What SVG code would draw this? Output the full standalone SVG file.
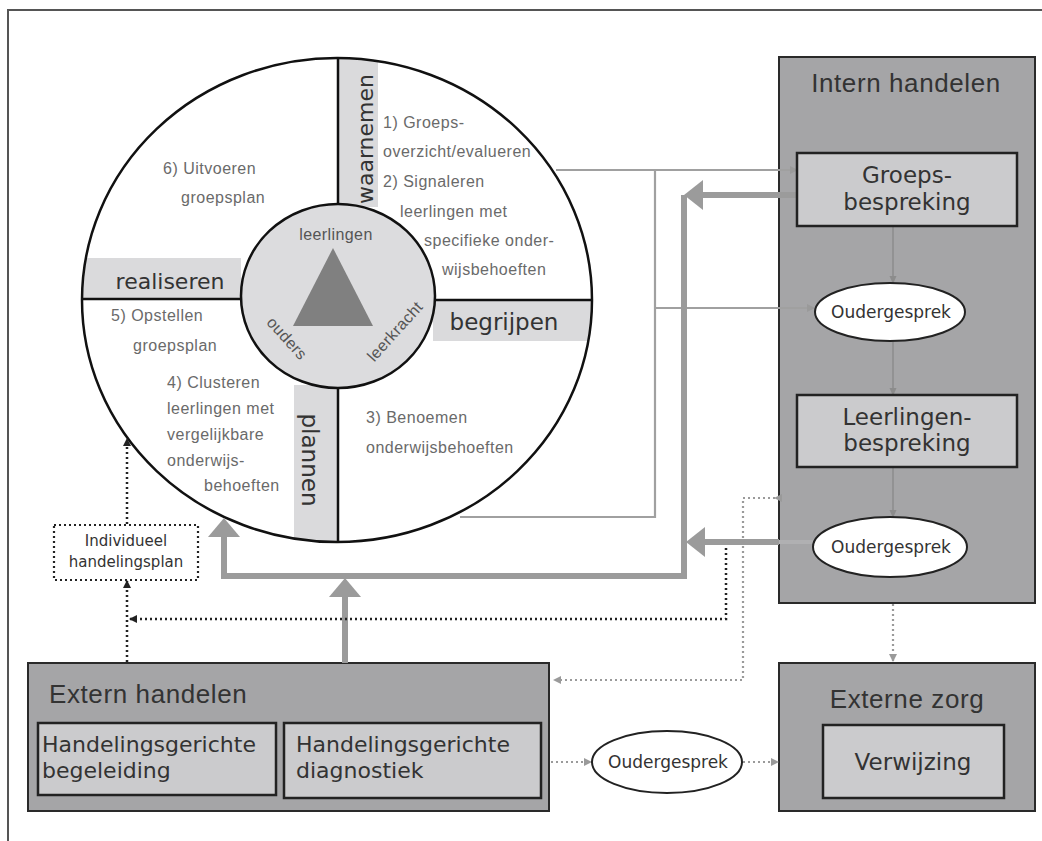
<svg xmlns="http://www.w3.org/2000/svg" width="1042" height="841" viewBox="0 0 1042 841">
<style>
.frame{stroke:#555;stroke-width:2;fill:none}
.q{font-family:"Liberation Sans",Arial,sans-serif;font-size:16px;letter-spacing:0.5px;fill:#6a6a6a}
.in{font-family:"Liberation Sans",Arial,sans-serif;font-size:16px;letter-spacing:0.4px;fill:#555}
.c{font-family:"DejaVu Sans",Verdana,sans-serif;fill:#333}
.t{font-family:"Liberation Sans",Arial,sans-serif;font-size:26px;letter-spacing:0.6px;fill:#333}
.strip{fill:#dadadc}
.box{fill:#a5a5a7;stroke:#2a2a2a;stroke-width:2}
.sub{fill:#cbcbcd;stroke:#222;stroke-width:2.5}
.ell{fill:#fff;stroke:#222;stroke-width:2}
.thick{stroke:#9b9b9b;stroke-width:6;fill:none}
.thin{stroke:#a0a0a0;stroke-width:2.2;fill:none}
.vthin{stroke:#8c8c8c;stroke-width:1.5;fill:none}
.dotl{stroke:#9a9a9a;stroke-width:2.2;stroke-dasharray:2 3;fill:none}
.dotd{stroke:#222;stroke-width:2.5;stroke-dasharray:2 3;fill:none}
</style>
<defs>
<clipPath id="oc"><ellipse cx="337" cy="300" rx="255" ry="242"/></clipPath>
<marker id="ag" markerWidth="8" markerHeight="8" refX="7" refY="4" orient="auto" markerUnits="userSpaceOnUse"><path d="M0,0 L8,4 L0,8 z" fill="#9a9a9a"/></marker>
<marker id="ad" markerWidth="8" markerHeight="8" refX="7" refY="4" orient="auto" markerUnits="userSpaceOnUse"><path d="M0,0 L8,4 L0,8 z" fill="#222"/></marker>
<marker id="at" markerWidth="8" markerHeight="8" refX="7" refY="4" orient="auto" markerUnits="userSpaceOnUse"><path d="M0,0.5 L8,4 L0,7.5 z" fill="#8c8c8c"/></marker>
</defs>

<!-- outer frame -->
<path class="frame" d="M8,841 L8,10 L1042,10"/>

<!-- circle model -->
<g id="cycle">
  <ellipse cx="337" cy="300" rx="255" ry="242" fill="#fff"/>
  <g clip-path="url(#oc)">
    <rect class="strip" x="339" y="55" width="39" height="152"/>
    <rect class="strip" x="75" y="258" width="166" height="40"/>
    <rect class="strip" x="433" y="301" width="165" height="40"/>
    <rect class="strip" x="294" y="385" width="43" height="160"/>
  </g>
  <ellipse cx="337" cy="300" rx="255" ry="242" fill="none" stroke="#111" stroke-width="2.5"/>
  <path d="M338,58 L338,205 M338,385 L338,542 M82,299 L242,299 M434,300 L592,300" stroke="#111" stroke-width="2.5" fill="none"/>
  <ellipse cx="338" cy="296" rx="97" ry="92" fill="#dcdcde" stroke="#111" stroke-width="2.5"/>
  <polygon points="333,248 293,326 373,326" fill="#808080"/>
  <text class="in" x="336" y="240" text-anchor="middle">leerlingen</text>
  <text class="in" transform="translate(283,342) rotate(48)" text-anchor="middle">ouders</text>
  <text class="in" transform="translate(399,335) rotate(-48)" text-anchor="middle">leerkracht</text>

  <text class="c" font-size="22" transform="translate(373,139) rotate(-90)" text-anchor="middle">waarnemen</text>
  <text class="c" font-size="22" x="170" y="289" text-anchor="middle">realiseren</text>
  <text class="c" font-size="23" x="504" y="330" text-anchor="middle">begrijpen</text>
  <text class="c" font-size="23" transform="translate(302,460) rotate(90)" text-anchor="middle">plannen</text>

  <text class="q" x="383" y="128">1) Groeps-</text>
  <text class="q" x="383" y="157">overzicht/evalueren</text>
  <text class="q" x="383" y="187">2) Signaleren</text>
  <text class="q" x="400" y="217">leerlingen met</text>
  <text class="q" x="424" y="246">specifieke onder-</text>
  <text class="q" x="442" y="275">wijsbehoeften</text>

  <text class="q" x="163" y="174">6) Uitvoeren</text>
  <text class="q" x="181" y="203">groepsplan</text>

  <text class="q" x="111" y="321">5) Opstellen</text>
  <text class="q" x="133" y="351">groepsplan</text>

  <text class="q" x="167" y="388">4) Clusteren</text>
  <text class="q" x="167" y="414">leerlingen met</text>
  <text class="q" x="167" y="440">vergelijkbare</text>
  <text class="q" x="167" y="466">onderwijs-</text>
  <text class="q" x="204" y="491">behoeften</text>

  <text class="q" x="366" y="423">3) Benoemen</text>
  <text class="q" x="366" y="453">onderwijsbehoeften</text>
</g>

<!-- container boxes -->
<g id="intern">
  <rect class="box" x="779" y="57" width="256" height="546"/>
  <text class="t" x="906" y="92" text-anchor="middle">Intern handelen</text>
</g>
<g id="externe-zorg">
  <rect class="box" x="779" y="663" width="256" height="148"/>
  <text class="t" x="907" y="708" text-anchor="middle">Externe zorg</text>
</g>
<g id="extern">
  <rect class="box" x="28" y="663" width="521" height="148"/>
  <text class="t" x="49" y="703">Extern handelen</text>
</g>

<!-- connectors -->
<g id="connectors">
  <path class="thin" d="M556,170 L797,170" marker-end="url(#ag)"/>
  <path class="thin" d="M655,170 L655,517 L460,517"/>
  <path class="thin" d="M655,308 L814,308" marker-end="url(#ag)"/>
  <path class="thick" d="M684,195 L684,576 L224,576 L224,534"/>
  <polygon points="224,518 208,537 240,537" fill="#9b9b9b"/>
  <path class="thick" d="M797,195 L700,195"/>
  <polygon points="684,195 703,180 703,210" fill="#9b9b9b"/>
  <path class="thick" d="M779,542 L702,542"/>
  <path d="M813,542 L779,542" stroke="#b0b0b2" stroke-width="4" fill="none"/>
  <polygon points="686,542 705,527 705,557" fill="#9b9b9b"/>
  <path class="thick" d="M345,663 L345,594"/>
  <polygon points="345,578 329,597 361,597" fill="#9b9b9b"/>
  <path class="vthin" d="M893,226 L893,283" marker-end="url(#at)"/>
  <path class="vthin" d="M893,342 L893,395" marker-end="url(#at)"/>
  <path class="vthin" d="M893,467 L893,517" marker-end="url(#at)"/>
  <path class="dotl" d="M775,498 L743,498 L743,680 L554,680" marker-start="url(#ag)" marker-end="url(#ag)"/>
  <path class="dotl" d="M893,604 L893,661" marker-end="url(#ag)"/>
  <path class="dotl" d="M551,762 L591,762" marker-end="url(#ag)"/>
  <path class="dotl" d="M743,762 L778,762" marker-end="url(#ag)"/>
  <path class="dotd" d="M726,548 L726,619 L130,619" marker-end="url(#ad)"/>
  <path class="dotd" d="M127,662 L127,581" marker-end="url(#ad)"/>
  <path class="dotd" d="M127,524 L127,439" marker-end="url(#ad)"/>
</g>

<g id="groepsbespreking">
  <rect class="sub" x="797" y="153" width="220" height="73"/>
  <text class="c" font-size="23" x="907" y="183" text-anchor="middle">Groeps-</text>
  <text class="c" font-size="23" x="907" y="210" text-anchor="middle">bespreking</text>
</g>
<g id="oudergesprek1">
  <ellipse class="ell" cx="890" cy="312" rx="75" ry="29"/>
  <text class="c" font-size="17" x="891" y="318" text-anchor="middle">Oudergesprek</text>
</g>
<g id="leerlingenbespreking">
  <rect class="sub" x="797" y="395" width="220" height="72"/>
  <text class="c" font-size="23" x="907" y="425" text-anchor="middle">Leerlingen-</text>
  <text class="c" font-size="23" x="907" y="451" text-anchor="middle">bespreking</text>
</g>
<g id="oudergesprek2">
  <ellipse class="ell" cx="890" cy="547" rx="77" ry="30"/>
  <text class="c" font-size="17" x="891" y="553" text-anchor="middle">Oudergesprek</text>
</g>
<g id="verwijzing">
  <rect class="sub" x="823" y="725" width="181" height="73"/>
  <text class="c" font-size="23" x="913" y="770" text-anchor="middle">Verwijzing</text>
</g>
<g id="hg-begeleiding">
  <rect class="sub" x="38" y="723" width="238" height="72"/>
  <text class="c" font-size="22" x="42" y="752">Handelingsgerichte</text>
  <text class="c" font-size="22" x="42" y="778">begeleiding</text>
</g>
<g id="hg-diagnostiek">
  <rect class="sub" x="284" y="723" width="257" height="75"/>
  <text class="c" font-size="22" x="296" y="752">Handelingsgerichte</text>
  <text class="c" font-size="22" x="296" y="778">diagnostiek</text>
</g>
<g id="oudergesprek3">
  <ellipse class="ell" cx="667" cy="762" rx="75" ry="31"/>
  <text class="c" font-size="17" x="668" y="768" text-anchor="middle">Oudergesprek</text>
</g>
<g id="individueel">
  <rect x="54" y="525" width="144" height="55" fill="#fff" stroke="#222" stroke-width="2.2" stroke-dasharray="2 3"/>
  <text class="c" font-size="15" x="126" y="546" text-anchor="middle">Individueel</text>
  <text class="c" font-size="15" x="126" y="567" text-anchor="middle">handelingsplan</text>
</g>
</svg>
